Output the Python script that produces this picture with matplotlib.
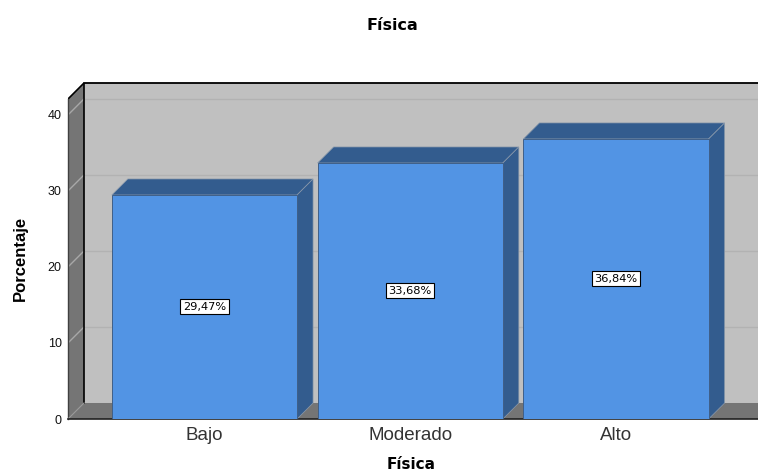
import matplotlib
matplotlib.use('Agg')
import matplotlib.pyplot as plt
from matplotlib.patches import Polygon

categories = ['Bajo', 'Moderado', 'Alto']
values = [29.47, 33.68, 36.84]
labels = ['29,47%', '33,68%', '36,84%']
yticks = [0, 10, 20, 30, 40]

plt.rcParams['font.family'] = ['Liberation Sans', 'DejaVu Sans']

W, H = 758, 473
fig = plt.figure(figsize=(W/100, H/100), dpi=100)
# axes fills the plot area, pixel box from the reference
ax = fig.add_axes([68/W, 1-419/H, (W-68)/W, (419-83)/H])

x0, x1 = -0.663, 2.69
ymax = 44.2
ax.set_xlim(x0, x1)
ax.set_ylim(0, ymax)

dx = 16/205.75   # depth in category units
dy = 16/7.6      # depth in value units
bw = 0.9

# back wall, left wall, floor
ax.add_patch(Polygon([(x0+dx, dy), (x1+1, dy), (x1+1, ymax), (x0+dx, ymax)], fc='#c0c0c0', ec='none', zorder=1))
ax.add_patch(Polygon([(x0, 0), (x0+dx, dy), (x0+dx, ymax), (x0, ymax-dy)], fc='#757575', ec='none', zorder=1))
ax.add_patch(Polygon([(x0, 0), (x0+dx, dy), (x1+1, dy), (x1+1, 0)], fc='#757575', ec='none', zorder=1))

# grid on the walls
for t in yticks[1:]:
    ax.plot([x0+dx, x1], [t+dy, t+dy], color='#b2b2b2', lw=1, zorder=2)
    ax.plot([x0, x0+dx], [t, t+dy], color='#a8a8a8', lw=1, zorder=2)

# wall edges
ax.plot([x0+dx, x1], [ymax, ymax], color='black', lw=1.3, zorder=3, clip_on=False)
ax.plot([x0+dx, x0+dx], [dy, ymax], color='black', lw=1.2, zorder=3)
ax.plot([x0, x0+dx], [ymax-dy, ymax], color='black', lw=1.2, zorder=3)
ax.plot([x0, x0], [0, ymax-dy], color='#404040', lw=1, zorder=3, clip_on=False)
ax.plot([x0, x0+dx], [0, dy], color='#999999', lw=0.8, zorder=3)
ax.plot([x0, x1], [0, 0], color='#202020', lw=1.2, zorder=3, clip_on=False)

# 3d bars
for i, v in enumerate(values):
    l, r = i-bw/2, i+bw/2
    ax.add_patch(Polygon([(l, v), (l+dx, v+dy), (r+dx, v+dy), (r, v)], fc='#335c8e', ec='#8a99ab', lw=0.5, zorder=4))
    ax.add_patch(Polygon([(r, 0), (r+dx, dy), (r+dx, v+dy), (r, v)], fc='#335c8e', ec='#8a99ab', lw=0.5, zorder=4))
    ax.bar(i, v, width=bw, color='#5294e4', edgecolor='#3f5f88', linewidth=0.7, zorder=5)
    ax.text(i, v/2, labels[i], ha='center', va='center', fontsize=8.2, family='DejaVu Sans', color='black', zorder=6,
            bbox=dict(boxstyle='square,pad=0.22', fc='white', ec='black', lw=0.8))

ax.set_xticks(range(len(categories)))
ax.set_xticklabels(categories, fontsize=13.5, color='#333333')
ax.set_yticks(yticks)
ax.set_yticklabels(yticks, fontsize=9, color='#111111')
ax.tick_params(axis='both', length=0)
ax.tick_params(axis='y', pad=4.5)
ax.tick_params(axis='x', pad=6)
for s in ax.spines.values():
    s.set_visible(False)

fig.text(392/W, 1-26/H, 'Física', ha='center', va='center', fontsize=11.5, family='DejaVu Sans', fontweight='bold')
fig.text(411/W, 1-464/H, 'Física', ha='center', va='center', fontsize=11, family='DejaVu Sans', fontweight='bold')
fig.text(20/W, 1-258/H, 'Porcentaje', ha='center', va='center', rotation=90, fontsize=12, fontweight='bold')

fig.savefig('out.png', dpi=100)
